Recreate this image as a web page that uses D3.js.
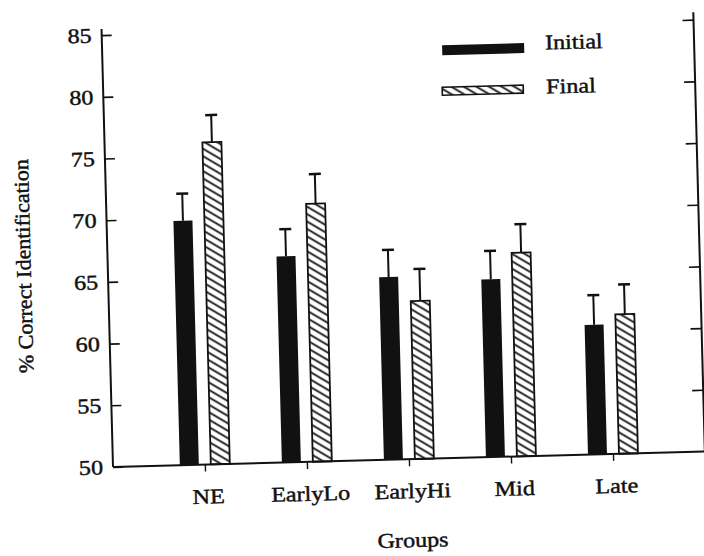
<!DOCTYPE html>
<html>
<head>
<meta charset="utf-8">
<script src="https://cdn.jsdelivr.net/npm/d3@7"></script>
<style>
  html, body { margin: 0; padding: 0; background: #fff; }
  svg { display: block; }
  text { font-family: "Liberation Serif", "Times New Roman", serif; fill: #111; stroke: #111; stroke-width: 0.45px; }
</style>
</head>
<body>
<svg id="chart"></svg>
<script>
// Data
const groups = ["NE", "EarlyLo", "EarlyHi", "Mid", "Late"];
const series = ["Initial", "Final"];
const initialMeans = [69.8, 66.7, 64.8, 64.4, 60.5];
const initialSE = [2.2, 2.2, 2.2, 2.3, 2.4];
const finalMeans = [76.1, 70.9, 62.8, 66.5, 61.3];
const finalSE = [2.2, 2.4, 2.6, 2.3, 2.4];
const yTicks = [50, 55, 60, 65, 70, 75, 80, 85];
const rightTicks = [55, 60, 65, 70, 75, 80, 85];

// Layout
const WIDTH = 704;
const HEIGHT = 556;
const LEFT = 113;
const RIGHT = 705;
const BOTTOM = 467;
const TOP = 35;
const STRETCH = 1.15;      // the scanned type is wide
const INK = "#111";

const svg = d3.select("#chart")
    .attr("width", WIDTH)
    .attr("height", HEIGHT)
    .attr("viewBox", [0, 0, WIDTH, HEIGHT]);

// Hatch for the "Final" bars
const defs = svg.append("defs");
defs.append("pattern")
    .attr("id", "hatch")
    .attr("patternUnits", "userSpaceOnUse")
    .attr("width", 6.4)
    .attr("height", 6.4)
    .attr("patternTransform", "rotate(32)")
  .append("line")
    .attr("x1", 0).attr("y1", 3.2)
    .attr("x2", 6.4).attr("y2", 3.2)
    .attr("stroke", INK)
    .attr("stroke-width", 1.8);

// the scan is slightly tilted
const g = svg.append("g")
    .attr("transform", `rotate(-1.5, ${LEFT}, ${BOTTOM})`);

const x = d3.scalePoint().domain(groups).range([LEFT, RIGHT]).padding(0.9);
const x1 = d3.scaleBand().domain(series).range([-25, 25]).paddingInner(0.387);
const y = d3.scaleLinear().domain([50, 85]).range([BOTTOM, TOP]);

const rows = groups.map((name, i) => ({
    name,
    values: [
        { key: "Initial", mean: initialMeans[i], se: initialSE[i] },
        { key: "Final", mean: finalMeans[i], se: finalSE[i] }
    ]
}));

// Bars and error bars
const groupSel = g.selectAll(".group")
    .data(rows)
    .join("g")
    .attr("class", "group")
    .attr("transform", d => `translate(${x(d.name)},0)`);

const item = groupSel.selectAll(".item")
    .data(d => d.values)
    .join("g")
    .attr("class", "item");

item.append("line")
    .attr("x1", d => x1(d.key) + x1.bandwidth() / 2)
    .attr("x2", d => x1(d.key) + x1.bandwidth() / 2)
    .attr("y1", d => y(d.mean))
    .attr("y2", d => y(d.mean + d.se))
    .attr("stroke", INK)
    .attr("stroke-width", 2);

item.append("line")
    .attr("x1", d => x1(d.key) + x1.bandwidth() / 2 - 6)
    .attr("x2", d => x1(d.key) + x1.bandwidth() / 2 + 6)
    .attr("y1", d => y(d.mean + d.se))
    .attr("y2", d => y(d.mean + d.se))
    .attr("stroke", INK)
    .attr("stroke-width", 2.5);

item.append("rect")
    .attr("x", d => x1(d.key))
    .attr("width", x1.bandwidth())
    .attr("y", d => y(d.mean))
    .attr("height", d => y(50) - y(d.mean))
    .attr("fill", d => d.key === "Initial" ? INK : "url(#hatch)")
    .attr("stroke", INK)
    .attr("stroke-width", d => d.key === "Initial" ? 0 : 1.8);

// Axes
const yAxis = g.append("g")
    .attr("transform", `translate(${LEFT},0)`)
    .call(d3.axisLeft(y).tickValues(yTicks).tickSizeInner(-10).tickSizeOuter(0).tickPadding(10));
yAxis.select(".domain").remove();
yAxis.selectAll(".tick line").attr("stroke", INK).attr("stroke-width", 1.6);
yAxis.selectAll(".tick text")
    .attr("x", -10 / STRETCH)
    .attr("transform", `scale(${STRETCH},1)`)
    .attr("font-size", 21)
    .attr("fill", INK);

const rAxis = g.append("g")
    .attr("transform", `translate(${RIGHT},0)`)
    .call(d3.axisRight(y).tickValues(rightTicks).tickSizeInner(-11).tickSizeOuter(0).tickFormat(""));
rAxis.select(".domain").remove();
rAxis.selectAll(".tick line").attr("stroke", INK).attr("stroke-width", 1.6);

const xAxis = g.append("g")
    .attr("transform", `translate(0,${BOTTOM})`)
    .call(d3.axisBottom(x).tickSize(7).tickSizeOuter(0).tickFormat(""));
xAxis.select(".domain").remove();
xAxis.selectAll(".tick line").attr("stroke", INK).attr("stroke-width", 1.4);

// axis lines
g.append("line")
    .attr("x1", LEFT).attr("x2", LEFT)
    .attr("y1", y(85.5)).attr("y2", BOTTOM)
    .attr("stroke", INK).attr("stroke-width", 2);
g.append("line")
    .attr("x1", LEFT).attr("x2", RIGHT)
    .attr("y1", BOTTOM).attr("y2", BOTTOM)
    .attr("stroke", INK).attr("stroke-width", 2);
g.append("line")
    .attr("x1", RIGHT).attr("x2", RIGHT)
    .attr("y1", y(85.6)).attr("y2", BOTTOM)
    .attr("stroke", INK).attr("stroke-width", 2);

// Category labels
g.selectAll(".cat")
    .data(groups)
    .join("text")
    .attr("class", "cat")
    .attr("text-anchor", "middle")
    .attr("font-size", 21)
    .attr("transform", d => `translate(${x(d) + 3},506) scale(${STRETCH},1)`)
    .text(d => d);

// Axis titles
g.append("text")
    .attr("text-anchor", "middle")
    .attr("font-size", 21)
    .attr("transform", `translate(411,555) scale(${STRETCH},1)`)
    .text("Groups");

g.append("text")
    .attr("text-anchor", "middle")
    .attr("font-size", 21)
    .attr("transform", "translate(36,264) rotate(-90) scale(1.05,1)")
    .text("% Correct Identification");

// Legend
const legend = g.append("g");
legend.append("rect")
    .attr("x", 453).attr("y", 54)
    .attr("width", 82).attr("height", 10)
    .attr("fill", INK);
legend.append("rect")
    .attr("x", 452).attr("y", 96)
    .attr("width", 81).attr("height", 8)
    .attr("fill", "url(#hatch)")
    .attr("stroke", INK)
    .attr("stroke-width", 1.6);
legend.selectAll(".lab")
    .data(series)
    .join("text")
    .attr("class", "lab")
    .attr("font-size", 21)
    .attr("transform", (d, i) => `translate(556,${i === 0 ? 61 : 105}) scale(${STRETCH},1)`)
    .text(d => d);
</script>
</body>
</html>
